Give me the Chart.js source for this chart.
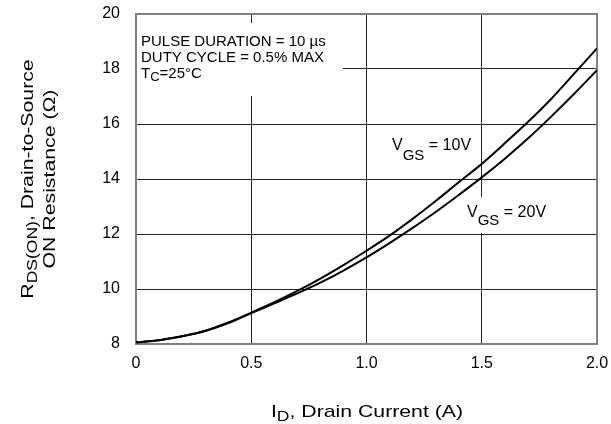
<!DOCTYPE html>
<html>
<head>
<meta charset="utf-8">
<script src="https://cdn.jsdelivr.net/npm/chart.js@4"></script>
<style>
  html, body { margin: 0; padding: 0; background: #fff; }
  #wrap { width: 611px; height: 424px; }
</style>
</head>
<body>
<div id="wrap"><canvas id="rdsChart" width="611" height="424"></canvas></div>
<script>
// drain current (A)
const drainCurrent = [0, 0.1, 0.2, 0.3, 0.4, 0.5, 0.6, 0.7, 0.8, 0.9, 1.0,
                      1.1, 1.2, 1.3, 1.4, 1.5, 1.6, 1.7, 1.8, 1.9, 2.0];
// RDS(on) in ohms
const rdsVgs10 = [8.06, 8.14, 8.28, 8.48, 8.78, 9.14, 9.52, 9.93, 10.38, 10.87, 11.39,
                  11.94, 12.55, 13.2, 13.88, 14.55, 15.3, 16.07, 16.9, 17.82, 18.75];
const rdsVgs20 = [8.06, 8.14, 8.28, 8.47, 8.76, 9.12, 9.48, 9.84, 10.23, 10.67, 11.15,
                  11.67, 12.22, 12.8, 13.42, 14.06, 14.74, 15.47, 16.26, 17.09, 17.96];
const xTicks = [0, 0.5, 1.0, 1.5, 2.0];
const yTicks = [8, 10, 12, 14, 16, 18, 20];

const FONT = '"Liberation Sans", Arial, sans-serif';

function toPoints(xs, ys) {
    return xs.map((x, i) => ({ x: x, y: ys[i] }));
}

// draws a run of [text, isSub] pieces starting at x
function drawRuns(ctx, runs, x, y, size, subSize, subShift) {
    let cx = x;
    runs.forEach(([txt, sub]) => {
        ctx.font = (sub ? subSize : size) + 'px ' + FONT;
        ctx.fillText(txt, cx, sub ? y + subShift : y);
        cx += ctx.measureText(txt).width;
    });
}

function runsWidth(ctx, runs, size, subSize) {
    let w = 0;
    runs.forEach(([txt, sub]) => {
        ctx.font = (sub ? subSize : size) + 'px ' + FONT;
        w += ctx.measureText(txt).width;
    });
    return w;
}

// axis titles in the original are wider than plain Arial, so stretch them a bit
function drawTitle(ctx, runs, cx, baseY, stretch) {
    const w = runsWidth(ctx, runs, 17, 14);
    ctx.save();
    ctx.translate(cx, baseY);
    ctx.scale(stretch, 1);
    drawRuns(ctx, runs, -w / 2, 0, 17, 14, 4);
    ctx.restore();
}

const decorPlugin = {
    id: 'decor',
    beforeDatasetsDraw(chart) {
        const ctx = chart.ctx;
        const a = chart.chartArea;
        ctx.save();
        // white boxes behind the notes
        ctx.fillStyle = '#fff';
        ctx.fillRect(a.left + 1, 23, 206, 73);
        ctx.fillRect(462, 197, 88, 36);
        // plot frame
        ctx.strokeStyle = '#808080';
        ctx.lineWidth = 2;
        ctx.strokeRect(a.left, a.top, a.right - a.left, a.bottom - a.top);
        ctx.restore();
    },
    afterDraw(chart) {
        const ctx = chart.ctx;
        ctx.save();
        ctx.fillStyle = '#000';
        ctx.textBaseline = 'alphabetic';
        ctx.textAlign = 'left';

        // test conditions
        ctx.font = '15px ' + FONT;
        ctx.fillText('PULSE DURATION = 10 \u00b5s', 141, 46);
        ctx.fillText('DUTY CYCLE = 0.5% MAX', 141, 62);
        drawRuns(ctx, [['T', false], ['C', true], ['=25\u00b0C', false]], 141, 78, 15, 13, 3);

        // curve labels
        drawRuns(ctx, [['V', false], ['GS', true], [' = 10V', false]], 392, 150, 16, 15, 10);
        drawRuns(ctx, [['V', false], ['GS', true], [' = 20V', false]], 467, 217, 16, 15, 8);

        // x axis title
        drawTitle(ctx, [['I', false], ['D', true], [', Drain Current (A)', false]], 367, 417, 1.25);

        // y axis title, two rotated lines
        ctx.translate(0, 179);
        ctx.rotate(-Math.PI / 2);
        drawTitle(ctx, [['R', false], ['DS(ON)', true], [', Drain-to-Source', false]], 0, 33, 1.25);
        drawTitle(ctx, [['ON Resistance (\u03a9)', false]], 0, 55, 1.25);
        ctx.restore();
    }
};

const ctx = document.getElementById('rdsChart');
new Chart(ctx, {
    type: 'scatter',
    data: {
        datasets: [
            {
                label: 'VGS = 10V',
                data: toPoints(drainCurrent, rdsVgs10),
                showLine: true,
                borderColor: '#000',
                borderWidth: 2,
                pointRadius: 0,
                cubicInterpolationMode: 'monotone',
                fill: false
            },
            {
                label: 'VGS = 20V',
                data: toPoints(drainCurrent, rdsVgs20),
                showLine: true,
                borderColor: '#000',
                borderWidth: 2,
                pointRadius: 0,
                cubicInterpolationMode: 'monotone',
                fill: false
            }
        ]
    },
    options: {
        responsive: false,
        animation: false,
        devicePixelRatio: 1,
        layout: { padding: { left: 0, top: 14, right: 14, bottom: 0 } },
        scales: {
            x: {
                type: 'linear',
                min: 0,
                max: 2,
                afterFit: (scale) => {
                    scale.height = 80;
                    scale.paddingLeft = 0;
                    scale.paddingRight = 0;
                },
                afterBuildTicks: (scale) => { scale.ticks = xTicks.map(v => ({ value: v })); },
                grid: { color: '#222', lineWidth: 1, drawTicks: false },
                border: { display: false },
                ticks: {
                    padding: 10,
                    color: '#000',
                    font: { family: FONT, size: 16 },
                    callback: (v) => v === 0 ? '0' : v.toFixed(1)
                }
            },
            y: {
                min: 8,
                max: 20,
                afterFit: (scale) => {
                    scale.width = 136;
                    scale.paddingTop = 0;
                    scale.paddingBottom = 0;
                },
                afterBuildTicks: (scale) => { scale.ticks = yTicks.map(v => ({ value: v })); },
                grid: { color: '#222', lineWidth: 1, drawTicks: false },
                border: { display: false },
                ticks: {
                    padding: 16,
                    color: '#000',
                    font: { family: FONT, size: 16 }
                }
            }
        },
        plugins: {
            legend: { display: false },
            tooltip: { enabled: false }
        }
    },
    plugins: [decorPlugin]
});
</script>
</body>
</html>
